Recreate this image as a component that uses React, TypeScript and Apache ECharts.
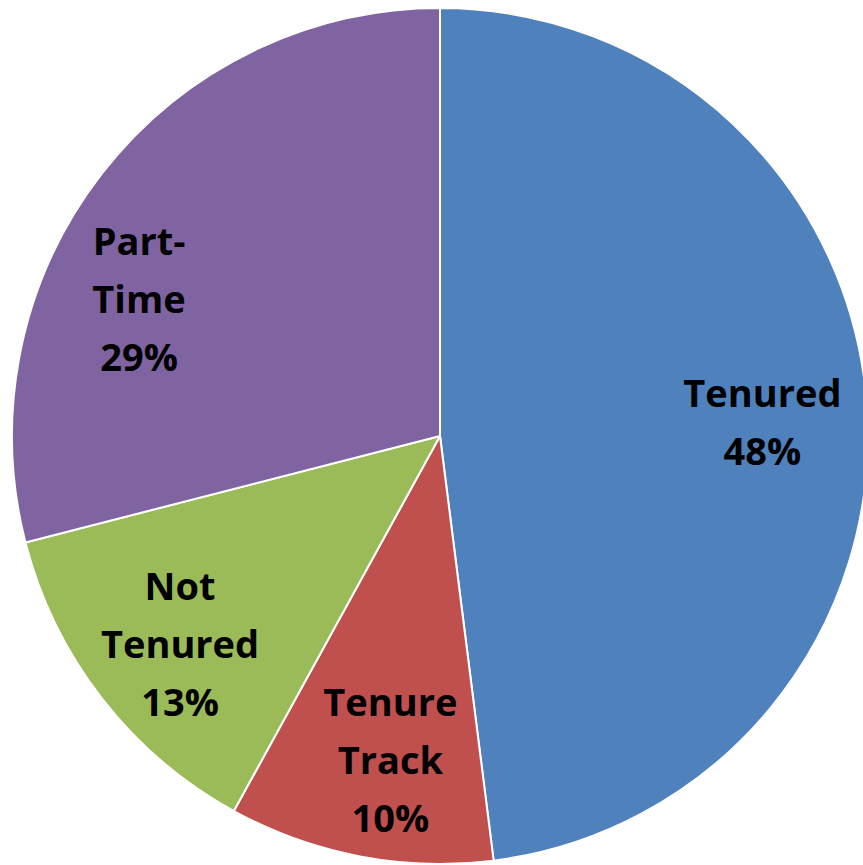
import React, { useEffect, useRef } from "react";
import * as echarts from "echarts";

const categories = ["Tenured", "Tenure\nTrack", "Not\nTenured", "Part-\nTime"];
const values = [48, 10, 13, 29];
const colors = ["#4F81BD", "#C0504D", "#9BBB59", "#8064A2"];
const labelOffsets: [number, number][] = [[-6, 6], [12, 0], [0, 5], [-41, 64]];

export default function App() {
  const ref = useRef<HTMLDivElement>(null);
  useEffect(() => {
    if (!ref.current) return;
    const chart = echarts.init(ref.current, undefined, { renderer: "svg" });
    const center = [440, 436];
    chart.setOption({
      animation: false,
      backgroundColor: "#ffffff",
      series: [
        {
          type: "pie",
          center,
          radius: [0, 428],
          startAngle: 90,
          clockwise: true,
          silent: true,
          label: { show: false },
          labelLine: { show: false },
          itemStyle: { borderColor: "#ffffff", borderWidth: 2 },
          data: categories.map((c, i) => ({
            name: c,
            value: values[i],
            itemStyle: { color: colors[i] },
          })),
        },
        {
          type: "pie",
          center,
          radius: [224, 428],
          startAngle: 90,
          clockwise: true,
          silent: true,
          itemStyle: { color: "rgba(0,0,0,0)" },
          labelLine: { show: false },
          label: {
            show: true,
            position: "inside",
            fontFamily: "Open Sans",
            fontWeight: "bold",
            fontSize: 38,
            lineHeight: 58,
            color: "#000000",
            align: "center",
            formatter: (p: any) => `${p.name}\n${p.value}%`,
          },
          data: categories.map((c, i) => ({
            name: c,
            value: values[i],
            label: { offset: labelOffsets[i] },
          })),
        },
      ],
    });
    return () => chart.dispose();
  }, []);
  return (
    <div
      ref={ref}
      style={{ position: "fixed", left: 0, top: 0, width: 863, height: 865 }}
    />
  );
}
